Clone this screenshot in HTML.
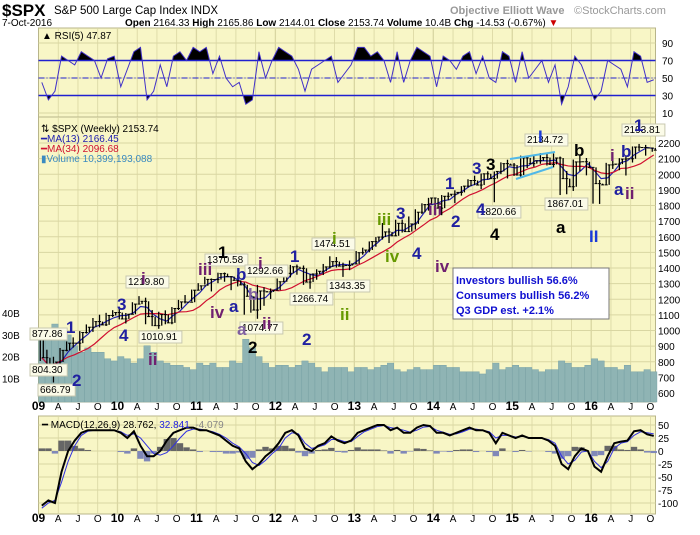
<!DOCTYPE html>
<html><head><meta charset="utf-8"><style>
body{margin:0;background:#fff;width:700px;height:530px;overflow:hidden;font-family:"Liberation Sans",sans-serif}
svg text{font-family:"Liberation Sans",sans-serif}
</style></head><body>
<svg id="c" width="700" height="530" xmlns="http://www.w3.org/2000/svg">
<text x="2" y="16" font-size="17" font-weight="bold">$SPX</text>
<text x="54" y="14" font-size="11.5">S&amp;P 500 Large Cap Index INDX</text>
<text x="450" y="14" font-size="11" font-weight="bold" fill="#999">Objective Elliott Wave</text>
<text x="574" y="14" font-size="11" fill="#999">©StockCharts.com</text>
<text x="2" y="26" font-size="10">7-Oct-2016</text>
<text x="125" y="26" font-size="10"><tspan font-weight="bold">Open</tspan> 2164.33 <tspan font-weight="bold">High</tspan> 2165.86 <tspan font-weight="bold">Low</tspan> 2144.01 <tspan font-weight="bold">Close</tspan> 2153.74 <tspan font-weight="bold">Volume</tspan> 10.4B <tspan font-weight="bold">Chg</tspan> -14.53 (-0.67%) <tspan fill="#c00">▼</tspan></text>
<g id="g"></g>
</svg>
<script>
const closes=[826,735,798,873,919,919,987,1021,1057,1036,1096,1115,1074,1104,1169,1187,1089,1031,1102,1049,1141,1183,1181,1258,1286,1327,1326,1364,1345,1321,1292,1219,1131,1253,1247,1258,1312,1366,1408,1398,1310,1362,1379,1407,1441,1412,1416,1426,1498,1515,1569,1598,1631,1606,1686,1633,1682,1757,1806,1848,1783,1859,1872,1884,1924,1960,1931,2003,1972,2018,2068,2059,1995,2105,2068,2086,2107,2063,2104,1972,1920,2079,2080,2044,1940,1932,2060,2065,2097,2099,2174,2171,2168,2154];
const highs=[944,877,832,888,930,956,996,1039,1080,1101,1113,1130,1150,1112,1181,1220,1210,1131,1120,1129,1150,1196,1227,1262,1303,1344,1333,1370,1371,1345,1357,1308,1230,1292,1277,1269,1333,1378,1420,1422,1416,1363,1392,1426,1475,1470,1434,1448,1509,1530,1570,1598,1688,1654,1709,1710,1730,1776,1814,1849,1851,1867,1884,1897,1924,1968,1991,2005,2019,2018,2076,2093,2072,2119,2114,2126,2135,2130,2133,2113,2021,2094,2117,2104,2039,1963,2073,2111,2103,2120,2178,2194,2188,2166];
const lows=[805,741,667,783,867,891,870,980,991,1020,1029,1086,1071,1045,1105,1170,1040,1028,1011,1040,1040,1131,1173,1186,1256,1294,1250,1303,1312,1258,1282,1101,1114,1075,1158,1202,1259,1312,1340,1357,1292,1267,1325,1355,1396,1403,1343,1386,1426,1485,1501,1536,1582,1560,1604,1627,1633,1646,1746,1767,1737,1738,1834,1815,1863,1915,1930,1905,1965,1821,2001,1973,1989,1981,2040,2048,2067,2056,2044,1867,1872,1893,2019,1993,1812,1810,1932,2034,2026,1992,2075,2148,2119,2144];
const volumes=[28,30,35,32,30,25,22,24,22,22,19,18,20,19,17,19,25,22,18,17,16,16,15,14,17,16,17,15,15,18,17,28,24,20,17,15,16,16,15,16,18,17,15,13,15,15,15,13,15,15,14,15,16,17,14,13,14,15,14,14,16,16,15,15,13,13,13,12,14,17,14,15,16,15,15,14,13,14,14,18,17,15,15,16,19,18,15,15,14,16,13,13,14,13];
const rsi=[45,25,35,75,70,65,80,75,70,50,72,75,40,60,80,85,25,35,65,40,75,80,70,85,80,85,55,75,50,40,45,20,25,80,50,70,85,80,75,60,35,60,65,70,75,45,55,65,85,85,75,80,70,45,80,45,70,85,80,75,40,75,70,60,75,80,55,75,50,45,80,75,45,80,50,60,70,45,65,20,40,75,65,45,25,35,70,65,60,40,80,75,45,48];
const macd=[-105,-95,-100,-40,0,20,35,40,40,40,40,40,35,25,38,10,-10,-10,0,20,35,40,45,45,40,40,35,30,20,10,5,-20,-35,-25,-10,0,15,35,40,30,5,0,10,15,28,20,15,20,35,40,45,50,50,40,45,35,35,45,50,48,35,35,30,35,40,45,40,40,35,15,35,30,25,30,25,25,25,20,10,-25,-35,-10,5,0,-30,-40,-10,15,18,20,38,40,32,29];
const signal=[-110,-100,-95,-60,-20,10,30,38,40,40,40,40,37,30,33,25,10,-5,-8,-3,10,25,38,42,42,40,37,32,25,15,8,-5,-22,-28,-18,-5,5,25,35,33,15,5,8,12,22,22,18,18,28,37,42,47,49,45,43,40,36,40,46,47,40,36,32,33,37,42,42,40,37,25,30,30,27,28,26,25,25,22,15,-10,-25,-18,-2,0,-20,-32,-20,5,15,18,30,37,35,33];
const priceTicks=[600,700,800,900,1000,1100,1200,1300,1400,1500,1600,1700,1800,1900,2000,2100,2200];
const rsiTicks=[10,30,50,70,90];
const macdTicks=[50,25,0,-25,-50,-75,-100];
const volTicks=[10,20,30,40];
const monthLabels=["09","A","J","O","10","A","J","O","11","A","J","O","12","A","J","O","13","A","J","O","14","A","J","O","15","A","J","O","16","A","J","O"];

const NS="http://www.w3.org/2000/svg",G=document.getElementById('g');
function mk(t,a,p){const e=document.createElementNS(NS,t);for(const k in a)e.setAttribute(k,a[k]);(p||G).appendChild(e);return e;}
const L=38.5,R=655.5,MW=6.58;
const xm=i=>Math.min(L+3.3+i*MW,654);
const xq=q=>L+q*MW*3;
const yP=v=>393-(v-600)*0.15625;
const yR=v=>113-(v-10)*0.875;
const yM=v=>451-v*0.52;
const yV=v=>400-v*2.17;
const BG="#f8f6c6",GR="#d9d6a2";
function panel(y0,y1,name){
  const r=mk('rect',{x:L,y:y0,width:R-L,height:y1-y0,fill:BG,stroke:"#b8b58a"});
  
  
  for(let q=1;q<32;q++){const l=mk('line',{x1:xq(q),x2:xq(q),y1:y0,y2:y1,stroke:GR,'stroke-width':q%4==0?1.3:0.8});
    }
}
panel(28,117,'rsi-panel');panel(117,402,'price-panel');panel(416,514,'macd-panel');
rsiTicks.forEach(t=>{const tx=mk('text',{x:662,y:yR(t)+4,'font-size':10});tx.textContent=t;
  
  const l=mk('line',{x1:L,x2:R,y1:yR(t),y2:yR(t),stroke:GR});});
mk('clipPath',{id:'ca'}).appendChild(mk('rect',{x:L,y:28,width:R-L,height:yR(70)-28}));
mk('clipPath',{id:'cb'}).appendChild(mk('rect',{x:L,y:yR(30),width:R-L,height:117-yR(30)}));
let rp=rsi.map((v,i)=>xm(i)+','+yR(v)).join(' ');
const fa=mk('polygon',{points:xm(0)+','+yR(70)+' '+rp+' '+xm(rsi.length-1)+','+yR(70),fill:'#000','clip-path':'url(#ca)'});

const fb=mk('polygon',{points:xm(0)+','+yR(30)+' '+rp+' '+xm(rsi.length-1)+','+yR(30),fill:'#000','clip-path':'url(#cb)'});

[70,30].forEach(t=>{const l=mk('line',{x1:L,x2:R,y1:yR(t),y2:yR(t),stroke:'#2020d0','stroke-width':1.5});});
{const l=mk('line',{x1:L,x2:R,y1:yR(50),y2:yR(50),stroke:'#2020d0','stroke-dasharray':'6,2,1,2'});}
{const l=mk('polyline',{points:rp,fill:'none',stroke:'#4030c8','stroke-width':1});}
{const t=mk('text',{x:42,y:39,'font-size':10});t.textContent='▲ RSI(5) 47.87';}
priceTicks.forEach(t=>{const l=mk('line',{x1:L,x2:R,y1:yP(t),y2:yP(t),stroke:GR});
  const tx=mk('text',{x:658,y:yP(t)+4,'font-size':10});tx.textContent=t;});
volTicks.forEach(t=>{const tx=mk('text',{x:2,y:yV(t)+4,'font-size':10});tx.textContent=t+'B';});
volumes.forEach((v,i)=>{const b=mk('rect',{x:xm(i)-3.2,y:yV(v),width:6.4,height:402-yV(v),fill:'#8fb4b4',stroke:'#7aa3a6','stroke-width':0.5});
  });
function ma(n){return closes.map((c,i)=>{const s=closes.slice(Math.max(0,i-n+1),i+1);return s.reduce((a,b)=>a+b,0)/s.length;});}
[[3,'#2020b0','ma13-line'],[8,'#d01030','ma34-line']].forEach(([n,c,nm])=>{const m=ma(n);
  const l=mk('polyline',{points:m.map((v,i)=>xm(i)+','+yP(v)).join(' '),fill:'none',stroke:c,'stroke-width':1.2});});
closes.forEach((c,i)=>{const x=xm(i),o=i?closes[i-1]:highs[0];
  const g=mk('g',{});
  mk('line',{x1:x-1.5,x2:x-1.5,y1:yP(highs[i]),y2:yP(lows[i]),stroke:'#000','stroke-width':1.3},g);
  mk('line',{x1:x+1.5,x2:x+1.5,y1:yP(Math.max(o,c)),y2:yP(Math.min(o,c)),stroke:'#000','stroke-width':1.3},g);
  mk('line',{x1:x-3,x2:x,y1:yP(o),y2:yP(o),stroke:'#000'},g);
  mk('line',{x1:x,x2:x+3,y1:yP(c),y2:yP(c),stroke:'#000'},g);});
[['⇅ $SPX (Weekly) 2153.74','#000',132],['━MA(13) 2166.45','#2020b0',142],['━MA(34) 2096.68','#d01030',152],['▮Volume 10,399,193,088','#3a8ac0',162]].forEach(([t,c,y],k)=>{const e=mk('text',{x:41,y:y,'font-size':10,fill:c});e.textContent=t;
  });
[[510,159,555,152],[516,179,553,167]].forEach(a=>{const l=mk('line',{x1:a[0],y1:a[1],x2:a[2],y2:a[3],stroke:'#50b8e8','stroke-width':2});});
[['877.86',30,337],['804.30',30,373],['666.79',38,393],['1219.80',126,285],['1010.91',139,340],['1370.58',205,263],['1292.66',245,274],['1074.77',240,331],['1266.74',290,302],['1474.51',312,247],['1343.35',327,289],['1820.66',478,215],['2134.72',525,143],['1867.01',545,207],['2193.81',622,133]].forEach(([t,x,y])=>{
  const g=mk('g',{});
  mk('rect',{x:x,y:y-9,width:t.length*5.7+3,height:12,fill:'#fbfbe8',stroke:'#c8c8b0'},g);
  const e=mk('text',{x:x+2,y:y,'font-size':10},g);e.textContent=t;});
[['1',66,333,'#2020a0'],['2',72,386,'#2020a0'],['3',117,310,'#2020a0'],['4',119,341,'#2020a0'],['i',141,284,'#702070'],['ii',148,365,'#702070'],['iii',198,275,'#702070'],['1',218,258,'#000'],['iv',210,318,'#702070'],['a',229,312,'#2020a0'],['b',236,280,'#2020a0'],['b',248,300,'#8060a0'],['a',237,335,'#8060a0'],['i',258,269,'#702070'],['ii',262,329,'#702070'],['2',248,353,'#000'],['1',290,262,'#2020a0'],['2',302,345,'#2020a0'],['i',332,244,'#669900'],['ii',340,320,'#669900'],['iii',377,225,'#669900'],['iv',385,262,'#669900'],['3',396,219,'#2020a0'],['4',412,259,'#2020a0'],['iii',428,215,'#702070'],['iv',435,272,'#702070'],['1',445,189,'#2020a0'],['2',451,227,'#2020a0'],['3',472,174,'#2020a0'],['4',476,215,'#2020a0'],['3',486,170,'#000'],['4',490,240,'#000'],['I',538,142,'#1a3ad8'],['b',574,156,'#000'],['a',556,233,'#000'],['II',589,242,'#1a3ad8'],['i',610,161,'#702070'],['b',621,157,'#2020a0'],['a',614,195,'#2020a0'],['ii',625,199,'#702070'],['1',634,131,'#2020a0']].forEach(([t,x,y,c])=>{
  const e=mk('text',{x:x,y:y,'font-size':17,'font-weight':'bold',fill:c});e.textContent=t;});
{const g=mk('g',{});
 mk('rect',{x:453,y:268,width:156,height:51,fill:'#fff',stroke:'#777','stroke-width':1},g);
 [['Investors bullish 56.6%',284],['Consumers bullish 56.2%',299],['Q3 GDP est. +2.1%',314]].forEach(([t,y])=>{const e=mk('text',{x:456,y:y,'font-size':11,'font-weight':'bold',fill:'#1010d0'},g);e.textContent=t;});}
[410,522].forEach(yy=>monthLabels.forEach((t,q)=>{const yr=q%4==0;const e=mk('text',{x:xq(q),y:yy,'font-size':yr?12:10,'font-weight':yr?'bold':'normal','text-anchor':'middle'});e.textContent=t;
  }));
macdTicks.forEach(t=>{const l=mk('line',{x1:L,x2:R,y1:yM(t),y2:yM(t),stroke:GR});
  const tx=mk('text',{x:658,y:yM(t)+4,'font-size':10});tx.textContent=t;});
macd.forEach((m,i)=>{const h=(m-signal[i]);const b=mk('rect',{x:xm(i)-3.2,y:Math.min(yM(0),yM(h)),width:6.4,height:Math.abs(yM(h)-yM(0)),fill:h>=0?'#666':'#8088b8'});
  });
{const l=mk('polyline',{points:signal.map((v,i)=>xm(i)+','+yM(v)).join(' '),fill:'none',stroke:'#3030e0','stroke-width':1});}
{const l=mk('polyline',{points:macd.map((v,i)=>xm(i)+','+yM(v)).join(' '),fill:'none',stroke:'#000','stroke-width':2});}
{const e=mk('text',{x:42,y:428,'font-size':10});e.innerHTML='━ MACD(12,26,9) 28.762, <tspan fill="#2020e0">32.841</tspan>, <tspan fill="#888">-4.079</tspan>';}
</script>
</body></html>
